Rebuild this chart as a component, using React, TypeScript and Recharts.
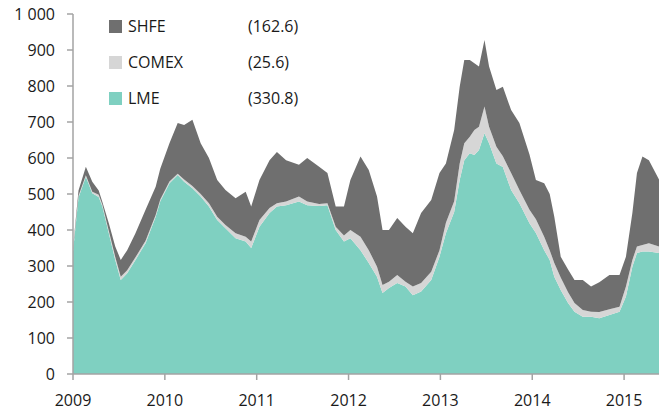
import React from 'react';
import { AreaChart, Area, XAxis, YAxis } from 'recharts';

// time in decimal years
const years = [
  2009.0, 2009.06, 2009.14, 2009.21, 2009.28, 2009.32, 2009.39, 2009.46, 2009.52, 2009.59,
  2009.68, 2009.79, 2009.9, 2009.95, 2010.05, 2010.14, 2010.21, 2010.3, 2010.39, 2010.48,
  2010.57, 2010.66, 2010.77, 2010.88, 2010.94, 2011.03, 2011.14, 2011.22, 2011.32, 2011.46,
  2011.55, 2011.68, 2011.77, 2011.86, 2011.95, 2012.02, 2012.13, 2012.22, 2012.31, 2012.37,
  2012.44, 2012.53, 2012.62, 2012.7, 2012.79, 2012.9, 2012.99, 2013.06, 2013.15, 2013.21,
  2013.26, 2013.32, 2013.37, 2013.42, 2013.48, 2013.53, 2013.61, 2013.68, 2013.77, 2013.86,
  2013.97, 2014.04, 2014.13, 2014.19, 2014.24, 2014.31, 2014.39, 2014.46, 2014.55, 2014.64,
  2014.73, 2014.84, 2014.95, 2015.02, 2015.09, 2015.14, 2015.2, 2015.27, 2015.38,
];

const lme = [
  340, 490, 548, 502, 492, 465, 391, 317, 261, 280,
  317, 363, 437, 480, 530, 553, 534, 516, 493, 465,
  428, 405, 377, 368, 350, 409, 447, 465, 469, 479,
  469, 467, 469, 400, 368, 377, 344, 308, 270, 225,
  239, 253, 243, 219, 229, 261, 326, 391, 450, 539,
  594, 613, 608, 622, 669, 641, 585, 575, 511, 474,
  419, 392, 344, 317, 270, 233, 197, 173, 159, 159,
  155, 164, 173, 215, 298, 336, 340, 340, 336,
];

const comex = [
  5, 5, 4, 4, 6, 5, 6, 8, 9, 8,
  7, 7, 5, 5, 5, 3, 6, 6, 7, 9,
  9, 9, 14, 13, 18, 19, 14, 9, 10, 14,
  10, 5, 5, 9, 17, 23, 37, 36, 28, 22,
  17, 22, 13, 24, 24, 23, 18, 29, 30, 46,
  47, 46, 70, 65, 74, 46, 46, 30, 47, 37,
  37, 38, 37, 27, 38, 35, 30, 24, 19, 14,
  17, 16, 14, 28, 19, 18, 18, 23, 18,
];

const shfe = [
  5, 15, 24, 28, 12, 8, 22, 29, 47, 56,
  67, 86, 78, 85, 106, 141, 152, 184, 141, 126,
  102, 97, 97, 125, 97, 111, 133, 143, 115, 88,
  121, 104, 84, 56, 80, 139, 223, 223, 195, 153,
  144, 158, 153, 148, 194, 199, 214, 165, 198, 213,
  231, 213, 185, 167, 185, 167, 158, 193, 175, 186,
  154, 109, 149, 156, 129, 58, 63, 64, 83, 70,
  83, 95, 88, 83, 130, 204, 246, 231, 186,
];

const xTicks = [2009, 2010, 2011, 2012, 2013, 2014, 2015];
const yTicks = [0, 100, 200, 300, 400, 500, 600, 700, 800, 900, 1000];

const legendItems = [
  { name: 'SHFE', value: '(162.6)', color: '#6f6f6f' },
  { name: 'COMEX', value: '(25.6)', color: '#d6d6d6' },
  { name: 'LME', value: '(330.8)', color: '#7fd0c1' },
];

const data = years.map((t, i) => ({ t, lme: lme[i], comex: comex[i], shfe: shfe[i] }));

const font = '"Open Sans", "Noto Sans", sans-serif';

const ChartLegend = () => (
  <div style={{ position: 'absolute', left: 109, top: 8, fontFamily: font, fontSize: 16, color: '#1a1a1a' }}>
    {legendItems.map((it) => (
      <div key={it.name} style={{ display: 'flex', alignItems: 'center', height: 36 }}>
        <span style={{ width: 13, height: 13, background: it.color, display: 'inline-block', marginRight: 6 }} />
        <span style={{ width: 120 }}>{it.name}</span>
        <span>{it.value}</span>
      </div>
    ))}
  </div>
);

export default function App() {
  return (
    <div style={{ position: 'absolute', left: 0, top: 0, width: 659, height: 413, background: '#fff' }}>
      <AreaChart width={659} height={413} data={data} margin={{ top: 14, right: 0, left: 0, bottom: 0 }}>
        <XAxis
          dataKey="t"
          type="number"
          domain={[2009, 2015.38]}
          ticks={xTicks}
          allowDataOverflow
          height={39}
          tickSize={6}
          tickMargin={15}
          stroke="#a3a3a3"
          strokeWidth={1.5}
          tick={{ fill: '#1a1a1a', fontSize: 16, fontFamily: font }}
        />
        <YAxis
          domain={[0, 1000]}
          ticks={yTicks}
          width={73}
          tickSize={6}
          tickMargin={12}
          stroke="#a3a3a3"
          strokeWidth={1.5}
          tickFormatter={(v: number) => (v === 1000 ? '1 000' : String(v))}
          tick={{ fill: '#1a1a1a', fontSize: 16, fontFamily: font }}
        />
        <Area type="linear" dataKey="lme" stackId="a" stroke="none" fill="#7fd0c1" fillOpacity={1} isAnimationActive={false} />
        <Area type="linear" dataKey="comex" stackId="a" stroke="none" fill="#d6d6d6" fillOpacity={1} isAnimationActive={false} />
        <Area type="linear" dataKey="shfe" stackId="a" stroke="none" fill="#6f6f6f" fillOpacity={1} isAnimationActive={false} />
      </AreaChart>
      <ChartLegend />
    </div>
  );
}
